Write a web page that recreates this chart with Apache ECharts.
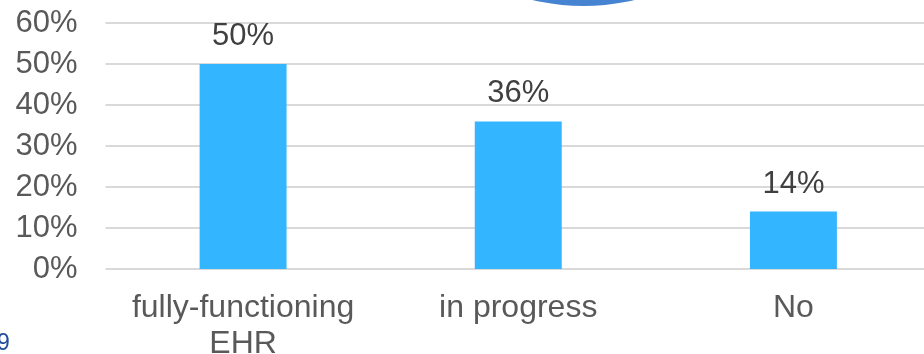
<!DOCTYPE html>
<html>
<head>
<meta charset="utf-8">
<script src="https://cdn.jsdelivr.net/npm/echarts@6/dist/echarts.min.js"></script>
<style>
  html, body { margin: 0; padding: 0; background: #fff; }
  #chart { width: 924px; height: 354px; }
</style>
</head>
<body>
<div id="chart"></div>
<script>
  const categories = ['fully-functioning\nEHR', 'in progress', 'No'];
  const percentValues = [50, 36, 14];
  const yTicks = [0, 10, 20, 30, 40, 50, 60];

  const chart = echarts.init(document.getElementById('chart'));
  const font = '"Liberation Sans", Arial, sans-serif';

  const option = {
    animation: false,
    grid: { left: 105.5, right: -7, top: 23, bottom: 85, outerBoundsMode: 'none', containLabel: false },
    xAxis: {
      type: 'category',
      data: categories,
      axisLine: { show: false },
      axisTick: { show: false },
      axisLabel: {
        interval: 0,
        hideOverlap: false,
        color: '#595959',
        fontSize: 32,
        fontFamily: font,
        lineHeight: 36,
        margin: 21
      }
    },
    yAxis: {
      type: 'value',
      min: yTicks[0],
      max: yTicks[yTicks.length - 1],
      interval: 10,
      axisLabel: {
        formatter: '{value}%',
        color: '#595959',
        fontSize: 31,
        fontFamily: font,
        margin: 28
      },
      splitLine: { lineStyle: { color: '#d9d9d9', width: 2 } }
    },
    series: [{
      type: 'bar',
      data: percentValues,
      barWidth: '31.6%',
      itemStyle: { color: '#33b5ff' },
      label: {
        show: true,
        position: 'top',
        distance: 12,
        formatter: '{c}%',
        color: '#404040',
        fontSize: 31,
        fontFamily: font
      }
    }],
    graphic: [
      {
        type: 'circle',
        shape: { cx: 583.5, cy: -214, r: 220 },
        style: { fill: '#4683d0' },
        silent: true
      },
      {
        type: 'text',
        left: -3,
        top: 332,
        style: { text: '9', fill: '#1f4e9a', font: '23px ' + font }
      }
    ]
  };

  chart.setOption(option);
</script>
</body>
</html>
